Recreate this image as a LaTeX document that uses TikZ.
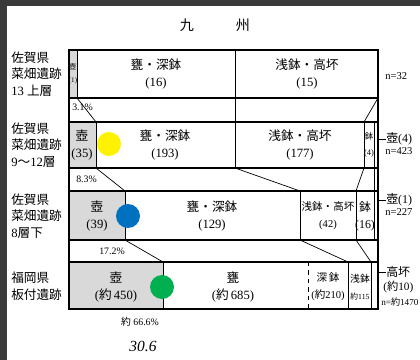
\documentclass[tikz,border=0pt]{standalone}
\usepackage{fontspec}
\setmainfont{Liberation Serif}
\newfontfamily\jp{Noto Sans CJK JP}
\usetikzlibrary{positioning}

\definecolor{scanedge}{RGB}{58,58,58}
\definecolor{dotyellow}{RGB}{255,242,0}
\definecolor{dotblue}{RGB}{0,112,192}
\definecolor{dotgreen}{RGB}{0,176,80}

\tikzset{
  rowbox/.style={line width=1.2pt},
  divider/.style={line width=0.7pt},
  link/.style={line width=0.5pt},
  potcell/.style={fill=gray!30},
  cell/.style={align=center, inner sep=0pt, font=\fontsize{9}{12}\selectfont},
  smallcell/.style={align=center, inner sep=0pt, font=\fontsize{7.5}{12}\selectfont},
  tinycell/.style={align=center, inner sep=0pt, font=\fontsize{5}{9}\selectfont},
  site/.style={align=left, anchor=west, inner sep=0pt, font=\fontsize{9}{11.8}\selectfont},
  pct/.style={inner sep=0pt, font=\fontsize{7}{8}\selectfont},
  side/.style={anchor=west, inner sep=0pt, font=\fontsize{8.5}{10}\selectfont},
  count/.style={anchor=west, inner sep=0pt, font=\fontsize{7.5}{8}\selectfont},
  marker/.style={circle, minimum size=24*0.25mm, inner sep=0pt}
}

\begin{document}
\begin{tikzpicture}[x=0.25mm, y=-0.25mm]
    \useasboundingbox (0,0) rectangle (420,360);
    % edge of the scan
    \fill[scanedge] (0,0) rectangle (420,6);
    \fill[scanedge] (0,0) rectangle (7,360);

    % title
    \node[font=\jp\fontsize{10}{12}\selectfont] (kyu) at (187,25) {九};
    \node[font=\jp\fontsize{10}{12}\selectfont] (shu) at (243,25) {州};

    % Row 1 - Nabatake 13 upper layer
    \begin{scope}
        \fill[potcell] (69,50) rectangle (77,98);
        \draw[rowbox] (69,50) rectangle (378,98);
        \draw[divider] (77,50) -- (77,98);
        \draw[divider] (235,50) -- (235,98);
        \node[site] (site1) at (11,74) {{\jp 佐賀県}\\{\jp 菜畑遺跡}\\13 {\jp 上層}};
        \node[tinycell] (r1pot) at (73,74) {{\jp 壺}\\(1)};
        \node[cell] (r1jar) at (156,74) {{\jp 甕・深鉢}\\(16)};
        \node[cell] (r1bowl) at (307,74) {{\jp 浅鉢・高坏}\\(15)};
        \node[count] (n1) at (385,76) {n=32};
    \end{scope}

    % Gap 1
    \draw[link] (77,98) -- (96,122);
    \draw[link] (235,98) -- (235,122);
    \draw[link] (378,98) -- (364,122);
    \node[pct, anchor=west] (p1) at (72,107) {3.1\%};

    % Row 2 - Nabatake 9~12 layers
    \begin{scope}
        \fill[potcell] (69,122) rectangle (96,168);
        \draw[rowbox] (69,122) rectangle (378,168);
        \draw[divider] (96,122) -- (96,168);
        \draw[divider] (235,122) -- (235,168);
        \draw[divider] (364,122) -- (364,168);
        \draw[divider] (374,122) -- (374,168);
        \node[site] (site2) at (11,145) {{\jp 佐賀県}\\{\jp 菜畑遺跡}\\9{\jp ～}12{\jp 層}};
        \node[cell] (r2pot) at (82,145) {{\jp 壺}\\(35)};
        \node[cell] (r2jar) at (165,145) {{\jp 甕・深鉢}\\(193)};
        \node[cell] (r2bowl) at (300,145) {{\jp 浅鉢・高坏}\\(177)};
        \node[align=center, inner sep=0pt, font=\fontsize{6}{11}\selectfont] (r2hachi) at (369,145) {{\jp 鉢}\\(4)};
        \node[side] (r2side) at (386,139) {{\jp 壺}(4)};
        \draw[link] (378,139) -- (r2side.west);
        \node[count] (n2) at (385,151) {n=423};
        \node[marker, fill=dotyellow] (dot2) at (109,144) {};
    \end{scope}

    % Gap 2
    \draw[link] (96,168) -- (125,191);
    \draw[link] (235,168) -- (300,191);
    \draw[link] (364,168) -- (356,191);
    \draw[link] (374,168) -- (374,191);
    \node[pct, anchor=west] (p2) at (76,179) {8.3\%};

    % Row 3 - Nabatake 8 lower layer
    \begin{scope}
        \fill[potcell] (69,191) rectangle (125,240);
        \draw[rowbox] (69,191) rectangle (378,240);
        \draw[divider] (125,191) -- (125,240);
        \draw[divider] (300,191) -- (300,240);
        \draw[divider] (356,191) -- (356,240);
        \draw[divider] (374,191) -- (374,240);
        \node[site] (site3) at (11,216) {{\jp 佐賀県}\\{\jp 菜畑遺跡}\\8{\jp 層下}};
        \node[cell] (r3pot) at (97,216) {{\jp 壺}\\(39)};
        \node[cell] (r3jar) at (212,216) {{\jp 甕・深鉢}\\(129)};
        \node[smallcell] (r3bowl) at (328,216) {{\jp 浅鉢・高坏}\\(42)};
        \node[align=center, inner sep=0pt, font=\fontsize{8.5}{12}\selectfont] (r3hachi) at (365,216) {{\jp 鉢}\\(16)};
        \node[side] (r3side) at (386,200) {{\jp 壺}(1)};
        \draw[link] (378,200) -- (r3side.west);
        \node[count] (n3) at (385,212) {n=227};
        \node[marker, fill=dotblue] (dot3) at (128,216) {};
    \end{scope}

    % Gap 3
    \draw[link] (125,240) -- (163,262);
    \draw[link] (300,240) -- (348,262);
    \draw[link] (356,240) -- (371,262);
    \node[pct] (p3) at (112,251) {17.2\%};

    % Row 4 - Itazuke
    \begin{scope}
        \fill[potcell] (69,262) rectangle (163,309);
        \draw[rowbox] (69,262) rectangle (378,309);
        \draw[divider] (163,262) -- (163,309);
        \draw[divider, dashed] (308,262) -- (308,309);
        \draw[divider] (348,262) -- (348,309);
        \draw[divider] (371,262) -- (371,309);
        \node[site] (site4) at (11,286) {{\jp 福岡県}\\{\jp 板付遺跡}};
        \node[cell] (r4pot) at (116,287) {{\jp 壺}\\({\jp 約}\,450)};
        \node[cell] (r4jar) at (233,287) {{\jp 甕}\\({\jp 約}\,685)};
        \node[smallcell] (r4deep) at (328,287) {{\jp 深\,鉢}\\({\jp 約}210)};
        \node[align=center, inner sep=0pt, font=\fontsize{5.5}{12}\selectfont] (r4shallow) at (360,287) {{\jp\fontsize{7}{12}\selectfont 浅鉢}\\{\jp 約}115};
        \node[side] (r4side) at (386,272) {{\jp 高坏}};
        \draw[link] (378,272) -- (r4side.west);
        \node[side, font=\fontsize{8}{10}\selectfont] (r4sidenum) at (383,287) {({\jp 約}10)};
        \node[count, font=\fontsize{6.5}{8}\selectfont] (n4) at (381,302) {n={\jp 約}1470};
        \node[marker, fill=dotgreen] (dot4) at (162,287) {};
    \end{scope}

    % outer frame sides
    \draw[rowbox] (69,50) -- (69,309);
    \draw[rowbox] (378,50) -- (378,309);

    % share of pots below
    \node[pct] (share) at (140,322) {{\jp 約} 66.6\%};
    \node[font=\itshape\fontsize{11}{12}\selectfont] (hand) at (143,346) {30.6};
\end{tikzpicture}
\end{document}
